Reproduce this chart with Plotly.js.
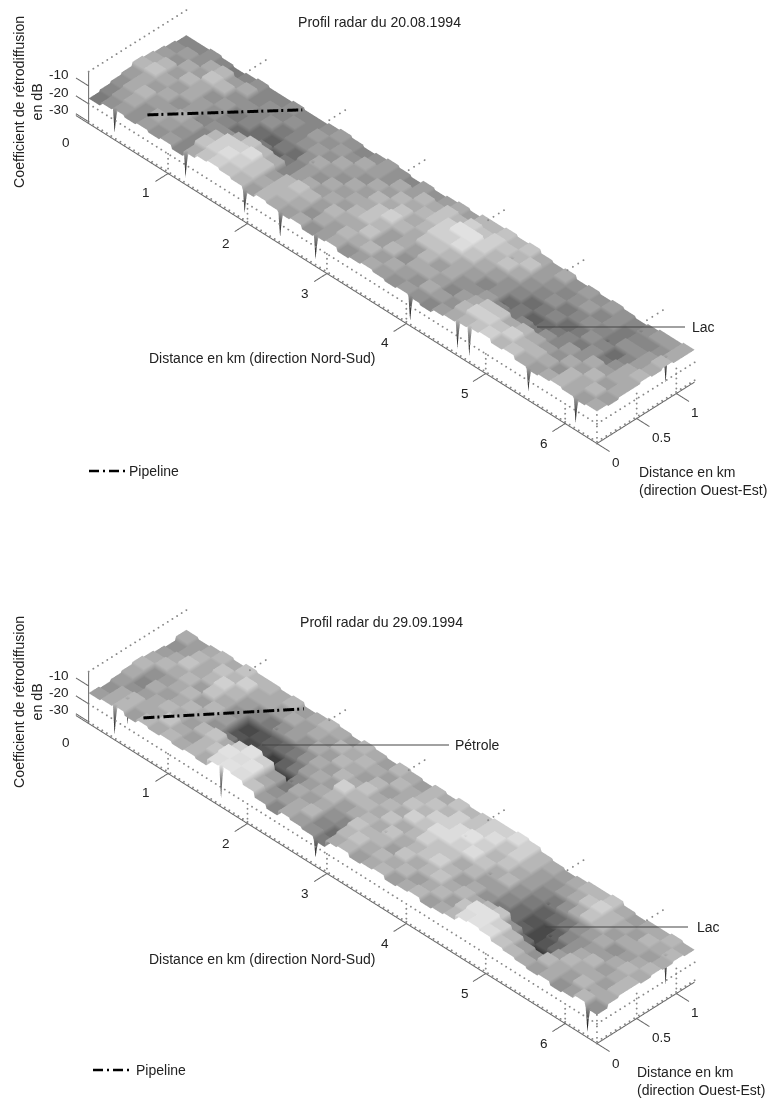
<!DOCTYPE html>
<html><head><meta charset="utf-8">
<script src="https://cdn.plot.ly/plotly-3.0.1.min.js"></script>
<style>html,body{margin:0;padding:0;background:#fff}</style></head>
<body><div id="c" style="width:769px;height:1099px"></div>
<script>
// Backscatter estimates in dB, read from the grey level of each plateau. Rows: west to east, columns: north to south.
var z1994a = [
[-17,-15,-14,-15,-14,-15,-14,-16,-13,-11, -10,-11,-12,-14,-12,-13,-14,-13,-15,-14, -13,-15,-14,-13,-14,-15,-14,-15,-16,-14, -13,-12,-11,-10,-12,-11,-13,-14,-13,-12, -13,-14,-13],
[-16,-14,-13,-15,-13,-14,-15,-16,-11,-10, -9,-10,-11,-13,-12,-12,-13,-15,-13,-14, -12,-13,-12,-14,-13,-14,-15,-13,-14,-15, -12,-10,-10,-11,-10,-12,-12,-13,-15,-12, -13,-12,-14],
[-15,-13,-12,-14,-14,-13,-14,-16,-12,-10, -10,-9,-11,-14,-12,-11,-12,-14,-12,-13, -13,-11,-14,-12,-15,-13,-13,-14,-16,-14, -13,-11,-11,-13,-12,-13,-14,-15,-13,-14, -12,-14,-13],
[-14,-13,-14,-13,-15,-14,-16,-15,-15,-13, -11,-12,-13,-16,-14,-13,-14,-13,-14,-12, -11,-12,-14,-13,-14,-12,-14,-13,-15,-15, -14,-16,-17,-16,-17,-15,-16,-14,-15,-13, -14,-13,-13],
[-12,-11,-13,-14,-13,-14,-15,-16,-18,-18, -17,-19,-17,-16,-14,-15,-13,-14,-13,-13, -11,-10,-12,-13,-11,-11,-12,-13,-14,-16, -15,-18,-17,-19,-18,-17,-16,-17,-15,-17, -15,-13,-12],
[-13,-12,-14,-12,-13,-15,-14,-17,-16,-18, -19,-17,-18,-15,-13,-14,-15,-13,-14,-12, -13,-11,-13,-12,-10,-10,-9,-11,-13,-14, -15,-16,-18,-17,-16,-18,-17,-15,-16,-18, -16,-14,-13],
[-14,-15,-13,-14,-11,-12,-15,-15,-16,-15, -17,-16,-15,-14,-15,-13,-14,-15,-13,-14, -12,-13,-12,-11,-10,-8,-8,-10,-12,-11, -13,-15,-16,-15,-17,-16,-15,-16,-17,-15, -15,-14,-12],
[-15,-14,-15,-13,-12,-14,-13,-16,-15,-16, -15,-16,-14,-15,-14,-15,-13,-14,-15,-13, -14,-12,-13,-11,-12,-10,-11,-10,-11,-12, -11,-14,-15,-16,-15,-14,-16,-15,-17,-16, -16,-15,-13],
[-16,-16,-15,-16,-17,-16,-15,-16,-16,-15, -16,-16,-15,-14,-15,-16,-15,-14,-15,-16, -14,-15,-14,-13,-14,-12,-12,-11,-12,-11, -13,-14,-13,-15,-14,-15,-14,-15,-16,-15, -14,-14,-13]
];
var z1994b = [
[-14,-13,-12,-14,-12,-13,-12,-13,-12,-13, -9,-8,-9,-11,-14,-16,-13,-14,-15,-17, -13,-12,-14,-13,-12,-14,-13,-12,-14,-13, -12,-9,-8,-9,-11,-12,-13,-14,-13,-15, -14,-12,-15],
[-15,-13,-12,-13,-13,-11,-13,-14,-12,-11, -8,-9,-8,-13,-15,-14,-13,-12,-16,-18, -12,-11,-13,-12,-13,-12,-14,-13,-12,-14, -11,-8,-8,-10,-12,-14,-15,-12,-13,-14, -12,-13,-13],
[-14,-15,-14,-13,-12,-13,-14,-12,-11,-13, -10,-8,-10,-14,-17,-13,-14,-13,-15,-16, -11,-12,-12,-14,-11,-13,-12,-11,-13,-12, -13,-12,-11,-15,-18,-23,-20,-14,-12,-13, -13,-14,-12],
[-13,-16,-13,-14,-13,-12,-13,-15,-17,-20, -18,-19,-21,-24,-16,-14,-13,-12,-14,-13, -12,-13,-11,-13,-12,-11,-10,-12,-14,-13, -15,-17,-18,-19,-21,-20,-18,-15,-13,-12, -14,-13,-12],
[-12,-15,-14,-13,-12,-14,-12,-14,-20,-21, -20,-22,-19,-17,-14,-13,-14,-10,-12,-12, -13,-11,-13,-12,-10,-11,-11,-13,-12,-14, -14,-16,-18,-20,-21,-19,-16,-15,-14,-14, -13,-12,-13],
[-13,-12,-13,-12,-14,-11,-13,-15,-21,-20, -19,-18,-17,-15,-13,-14,-12,-13,-11,-13, -12,-13,-10,-11,-9,-9,-10,-9,-11,-13, -12,-15,-17,-19,-18,-17,-15,-14,-13,-15, -14,-13,-12],
[-14,-13,-11,-13,-12,-10,-12,-14,-16,-17, -15,-14,-15,-13,-14,-12,-13,-14,-12,-14, -13,-11,-12,-10,-10,-9,-8,-10,-12,-11, -13,-14,-16,-17,-15,-13,-11,-12,-14,-13, -13,-14,-13],
[-15,-14,-12,-13,-11,-12,-10,-13,-13,-14, -13,-14,-13,-14,-12,-13,-12,-13,-14,-12, -13,-12,-11,-12,-10,-11,-10,-9,-11,-10, -12,-14,-15,-14,-13,-11,-10,-12,-13,-14, -12,-13,-12],
[-13,-14,-13,-12,-13,-11,-12,-12,-13,-12, -14,-13,-12,-13,-14,-12,-13,-14,-12,-13, -14,-12,-13,-11,-12,-11,-10,-10,-9,-10, -12,-13,-14,-13,-12,-12,-11,-13,-14,-13, -13,-12,-13]
];
// Narrow dark notches: column, row, dB
var notchesA = [[2,0,-27],[8,0,-27],[13,0,-26],[16,0,-27],[19,0,-27],[27,0,-28],[31,0,-27],[32,0,-27],[37,0,-26],[41,0,-27],[42,7,-28],[29,7,-27],[31,4,-28],[39,4,-27],[39,8,-27],[38,6,-29],[6,3,-25],[14,5,-25]];
var notchesB = [[2,0,-28],[2,1,-27],[11,0,-26],[19,0,-26],[42,0,-28],[42,7,-29],[35,4,-28],[29,5,-26],[26,6,-26],[22,3,-26],[41,1,-26],[10,6,-27],[14,3,-27],[7,5,-25],[33,6,-25]];
var pipelineA = {x:[0.695,1.62], y:[0.045,1.07], z:[-8,-8]};
var pipelineB = {x:[0.70,1.62], y:[-0.01,1.09], z:[-8,-8]};
var xTicks = [1,2,3,4,5,6];
var yTicks = [0,0.5,1];
var zTicks = [-30,-20,-10];
var xMax = 6.4, yMax = 1.23, zFloor = -31, zTop = -2;
var tickLen = 0.16;

function px(x,y){return {x:x/769,y:1-y/1099,xref:'paper',yref:'paper'};}
function note(t,x,y,anchor,size,extra){var a=px(x,y);a.text=t;a.showarrow=false;a.xanchor=anchor||'center';a.yanchor='middle';
  a.font={family:'Liberation Sans, Arial, sans-serif',size:size||14,color:'#222'};a.borderpad=0;a.borderwidth=0;
  for(var k in extra)a[k]=extra[k];return a;}
function seg(x0,y0,x1,y1,color,w,dash){return {type:'line',layer:'above',xref:'paper',yref:'paper',x0:x0/769,x1:x1/769,y0:1-y0/1099,y1:1-y1/1099,line:{color:color,width:w,dash:dash||'solid'}};}

var offs=[0.05,0.2,0.35,0.95];
function stops(n,d){var a=[];for(var j=0;j<n;j++)offs.forEach(function(o,k){
  a.push(j===0&&k===0?0:(j===n-1&&k===3?n*d:(j+o)*d));});return a;}
function expand(rows,notches){
  var nr=rows.length,nc=rows[0].length,zs=[];
  for(var i=0;i<nr;i++)for(var s=0;s<4;s++){var r=[];for(var j=0;j<nc;j++)for(var t=0;t<4;t++)r.push(rows[i][j]);zs.push(r);}
  notches.forEach(function(n){zs[4*n[1]+(n[1]===0?0:1)][4*n[0]+1]=n[2];});
  return {x:stops(nc,xMax/nc),y:stops(nr,yMax/nr),z:zs};
}
function lines(segs,scene,color,w){
  var x=[],y=[],z=[];
  segs.forEach(function(s){x.push(s[0],s[3],null);y.push(s[1],s[4],null);z.push(s[2],s[5],null);});
  return {type:'scatter3d',mode:'lines',x:x,y:y,z:z,scene:scene,connectgaps:false,showlegend:false,hoverinfo:'skip',line:{color:color,width:w}};
}
function screenLen(s){var dx=s[3]-s[0],dy=s[4]-s[1],dz=s[5]-s[2];var a=80*dx+79*dy,b=50.4*dx-50*dy-1.8*dz;return Math.sqrt(a*a+b*b);}
function dotted(segs,scene){
  var x=[],y=[],z=[];
  segs.forEach(function(s){var n=Math.max(1,Math.round(screenLen(s)/5.4));for(var i=0;i<=n;i++){var f=i/n;x.push(s[0]+(s[3]-s[0])*f);y.push(s[1]+(s[4]-s[1])*f);z.push(s[2]+(s[5]-s[2])*f);}});
  return {type:'scatter3d',mode:'markers',x:x,y:y,z:z,scene:scene,showlegend:false,hoverinfo:'skip',marker:{size:1.1,color:'#888',line:{width:0}}};
}
function dashed(p,scene){
  var s=[p.x[0],p.y[0],p.z[0],p.x[1],p.y[1],p.z[1]],L=screenLen(s),pat=[[0,11],[14,16]],period=20,segs=[];
  for(var o=0;o<L;o+=period)pat.forEach(function(q){var a=(o+q[0])/L,b=Math.min(1,(o+q[1])/L);if(a<1)segs.push([s[0]+(s[3]-s[0])*a,s[1]+(s[4]-s[1])*a,s[2],s[0]+(s[3]-s[0])*b,s[1]+(s[4]-s[1])*b,s[2]]);});
  return lines(segs,scene,'#000',6);
}
function sceneTraces(rows,notches,pipe,scene){
  var e=expand(rows,notches);
  var surf={type:'surface',x:e.x,y:e.y,z:e.z,scene:scene,showscale:false,cmin:-26,cmax:-8.5,hoverinfo:'skip',
    colorscale:[[0,'rgb(15,15,15)'],[1,'rgb(250,250,250)']],
    lighting:{ambient:0.9,diffuse:0.2,specular:0,roughness:1,fresnel:0},lightposition:{x:-1500,y:-300,z:3000},contours:{x:{highlight:false},y:{highlight:false},z:{highlight:false}}};
  var solid=[[0,0,zFloor,xMax,0,zFloor],[xMax,0,zFloor,xMax,yMax,zFloor],[0,0,zFloor,0,0,zTop]];
  xTicks.forEach(function(t){solid.push([t,0,zFloor,t,-tickLen,zFloor]);});
  yTicks.forEach(function(t){solid.push([xMax,t,zFloor,xMax+tickLen,t,zFloor]);});
  zTicks.forEach(function(t){solid.push([0,0,t,-tickLen,0,t]);});
  solid.push([0,0,zFloor,-tickLen,0,zFloor]);
  var dots=[[0,0,zTop,0,yMax,zTop],[0,0,-30,xMax,0,-30],[0,0,-20,xMax,0,-20],[xMax,0,-30,xMax,yMax,-30],[xMax,0,-20,xMax,yMax,-20],[xMax,0,zFloor,xMax,0,-15]];
  xTicks.forEach(function(t){dots.push([t,0,zFloor,t,0,-20]);dots.push([t,1.03,zTop,t,yMax,zTop]);});
  yTicks.forEach(function(t){if(t>0)dots.push([xMax,t,zFloor,xMax,t,-17]);});
  return [surf,lines(solid,scene,'#666',2),dotted(dots,scene),dashed(pipe,scene)];
}
function sceneLayout(yDomain){
  var hide={visible:false,showgrid:false,zeroline:false,showticklabels:false,showspikes:false};
  return {domain:{x:[0,1],y:yDomain},bgcolor:'rgba(0,0,0,0)',aspectmode:'manual',aspectratio:{x:3.311,y:0.8735,z:0.3286},
    camera:{projection:{type:'orthographic'},eye:{x:0.5486,y:-0.5486,z:0.6287},center:{x:0,y:0,z:0},up:{x:0,y:0,z:1}},
    xaxis:Object.assign({range:[-0.285,7.07]},hide),yaxis:Object.assign({range:[-0.6373,1.3027]},hide),zaxis:Object.assign({range:[-33.7,1.9]},hide)};
}
var data=sceneTraces(z1994a,notchesA,pipelineA,'scene').concat(sceneTraces(z1994b,notchesB,pipelineB,'scene2'));
var annos=[],shapes=[];
function chrome(dy,title,titleX,wex,wey,lac,lacLine,leg){
  annos.push(note(title,titleX,22+dy,'center',14.1));
  annos.push(note('Coefficient de rétrodiffusion<br>en dB',28,102+dy,'center',14.2,{textangle:-90}));
  zTicks.forEach(function(t,i){annos.push(note(String(t),59,[109,92,75][i]+dy,'center',13.5));});
  annos.push(note('0',66,142+dy,'center',13.5));
  xTicks.forEach(function(t,i){annos.push(note(String(t),[146,226,305,385,465,544][i],[192,243,293,343,393,443][i]+dy,'center',13.5));});
  yTicks.forEach(function(t,i){annos.push(note(String(t),[616,661,695][i],[463,437,412][i]+dy,'center',13.5));});
  annos.push(note('Distance en km (direction Nord-Sud)',261.5,358+dy+(dy?1:0),'center',14));
  annos.push(note('Distance en km<br>(direction Ouest-Est)',wex,wey,'left',14,{align:'left'}));
  annos.push(note('Lac',lac[0],lac[1],'left',14));
  shapes.push(seg(lacLine[0],lac[1],lacLine[1],lac[1],'#444',1.2));
  annos.push(note('Pipeline',leg[2],leg[3],'left',14));
  shapes.push(seg(leg[0],leg[3],leg[1],leg[3],'#000',2.5,'10px,4px,2px,4px'));
}
chrome(0,'Profil radar du 20.08.1994',379.5,639,481,[692,327],[537,685],[89,127,129,471]);
chrome(600,'Profil radar du 29.09.1994',381,637,1081,[697,927],[545,688],[93,132,136,1070]);
annos.push(note('Pétrole',455,745,'left',14));
shapes.push(seg(262,745,449,745,'#444',1.2));
var layout={width:769,height:1099,margin:{l:0,r:0,t:0,b:0},paper_bgcolor:'#fff',showlegend:false,hovermode:false,
  scene:sceneLayout([1-499/1099,1]),scene2:sceneLayout([0,499/1099]),annotations:annos,shapes:shapes};
Plotly.newPlot('c',data,layout,{displayModeBar:false});
</script></body></html>
